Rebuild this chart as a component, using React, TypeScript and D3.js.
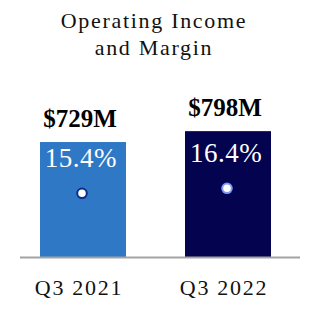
import React, { useEffect, useRef } from "react";
import * as d3 from "d3";

const categories = ["Q3 2021", "Q3 2022"];
const incomeValues = [729, 798];
const incomeLabels = ["$729M", "$798M"];
const marginValues = [15.4, 16.4];
const marginLabels = ["15.4%", "16.4%"];
const barColors = ["#2f78c6", "#03034f"];
const dotStrokes = ["#0c2c8c", "#7b98f2"];
const titleLines = ["Operating Income", "and Margin"];

export default function App() {
  const svgRef = useRef<SVGSVGElement>(null);
  const width = 310;
  const height = 310;

  useEffect(() => {
    if (!svgRef.current) return;
    const svg = d3.select(svgRef.current);
    svg.selectAll("*").remove();

    const font = "'Liberation Serif', 'Times New Roman', serif";
    const baseY = 257;

    const x = d3
      .scaleBand<string>()
      .domain(categories)
      .range([40, 271])
      .paddingInner(0.407)
      .paddingOuter(0);

    const y = d3.scaleLinear().domain([0, 1000]).range([baseY, baseY - 157.7]);

    // margin dots sit on their own scale
    const m = d3.scaleLinear().domain([14, 18]).range([200.3, 180.3]);

    const defs = svg.append("defs");
    const glow = defs.append("filter").attr("id", "dotGlow");
    glow.append("feGaussianBlur").attr("stdDeviation", 0.7);

    // Title
    svg
      .append("g")
      .selectAll("text")
      .data(titleLines)
      .enter()
      .append("text")
      .attr("x", 154)
      .attr("y", (_d, i) => 28 + i * 27)
      .attr("text-anchor", "middle")
      .attr("font-family", font)
      .attr("font-size", "22px")
      .attr("letter-spacing", "1.7px")
      .attr("fill", "#111")
      .text((d) => d);

    const idx = d3.range(categories.length);

    // Bars
    svg
      .append("g")
      .selectAll("rect")
      .data(idx)
      .enter()
      .append("rect")
      .attr("x", (i) => x(categories[i])!)
      .attr("y", (i) => y(incomeValues[i]))
      .attr("width", x.bandwidth())
      .attr("height", (i) => baseY - y(incomeValues[i]))
      .attr("fill", (i) => barColors[i]);

    // Baseline
    svg
      .append("line")
      .attr("x1", 20)
      .attr("x2", 300)
      .attr("y1", baseY + 0.5)
      .attr("y2", baseY + 0.5)
      .attr("stroke", "#a3a3a3")
      .attr("stroke-width", 2);

    const cx = (i: number) => x(categories[i])! + x.bandwidth() / 2;

    // Income labels
    svg
      .append("g")
      .selectAll("text")
      .data(idx)
      .enter()
      .append("text")
      .attr("x", (i) => cx(i) - 3)
      .attr("y", (i) => y(incomeValues[i]) - 15.5)
      .attr("text-anchor", "middle")
      .attr("font-family", font)
      .attr("font-weight", "bold")
      .attr("font-size", "25px")
      .attr("fill", "#000")
      .text((i) => incomeLabels[i]);

    // Margin labels
    svg
      .append("g")
      .selectAll("text")
      .data(idx)
      .enter()
      .append("text")
      .attr("x", (i) => cx(i) - 2)
      .attr("y", (i) => m(marginValues[i]) - 26)
      .attr("text-anchor", "middle")
      .attr("font-family", font)
      .attr("font-size", "27px")
      .attr("letter-spacing", "0.5px")
      .attr("fill", "#fff")
      .text((i) => marginLabels[i]);

    // Margin dots
    svg
      .append("g")
      .selectAll("circle")
      .data(idx)
      .enter()
      .append("circle")
      .attr("cx", (i) => cx(i) - 1)
      .attr("cy", (i) => m(marginValues[i]))
      .attr("r", 4.8)
      .attr("fill", "#fff")
      .attr("stroke", (i) => dotStrokes[i])
      .attr("stroke-width", 2)
      .attr("filter", (i) => (i === 1 ? "url(#dotGlow)" : null));

    // Category labels
    svg
      .append("g")
      .selectAll("text")
      .data(categories)
      .enter()
      .append("text")
      .attr("x", (d) => x(d)! + x.bandwidth() / 2 - 4)
      .attr("y", 295)
      .attr("text-anchor", "middle")
      .attr("font-family", font)
      .attr("font-size", "22px")
      .attr("letter-spacing", "1.7px")
      .attr("fill", "#111")
      .text((d) => d);
  }, []);

  return (
    <svg
      ref={svgRef}
      width={width}
      height={height}
      style={{ position: "absolute", left: 0, top: 0, background: "#fff" }}
    />
  );
}
